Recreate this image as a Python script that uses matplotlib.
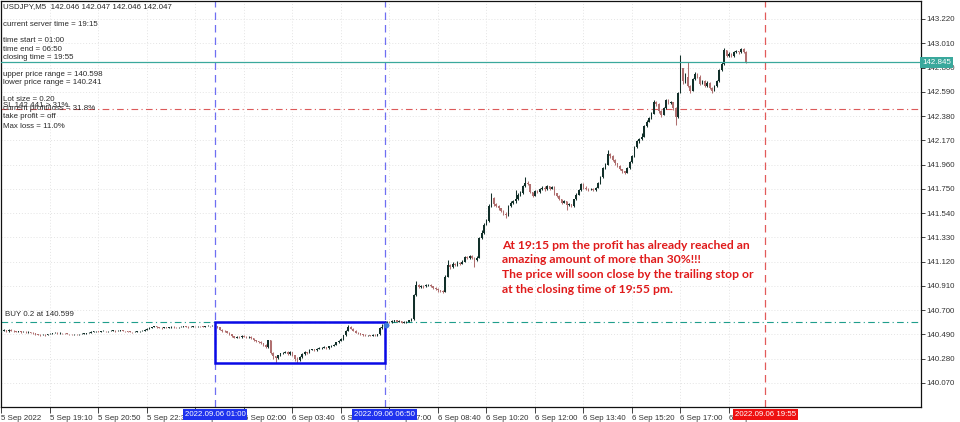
import matplotlib
matplotlib.use("Agg")
import matplotlib.pyplot as plt
import matplotlib.transforms as mtransforms
from matplotlib.patches import Rectangle
import numpy as np

# ---------------- data ----------------
first_open = 140.515

pre_close = [140.520, 140.528, 140.515, 140.530, 140.522, 140.518, 140.512, 140.515, 140.510, 140.512,
             140.508, 140.512, 140.505, 140.500, 140.492, 140.488, 140.482, 140.486, 140.484, 140.490,
             140.495, 140.500, 140.504, 140.498, 140.502, 140.500, 140.498, 140.495, 140.492, 140.490,
             140.493, 140.490, 140.492, 140.494, 140.496, 140.500, 140.505, 140.512, 140.515, 140.518,
             140.514, 140.518, 140.520, 140.516, 140.518, 140.520, 140.522, 140.518, 140.520, 140.523,
             140.520, 140.517, 140.514, 140.512, 140.510, 140.512, 140.515, 140.518, 140.522, 140.528,
             140.540, 140.548, 140.552, 140.558, 140.552, 140.548, 140.545, 140.550, 140.548, 140.552,
             140.555, 140.553, 140.550, 140.552, 140.555, 140.558, 140.556, 140.553, 140.556, 140.560,
             140.558, 140.561, 140.558, 140.556, 140.560, 140.563, 140.561, 140.565]
pre_high = [140.528, 140.535, 140.530, 140.536, 140.532, 140.524, 140.520, 140.520, 140.517, 140.518,
            140.515, 140.516, 140.514, 140.507, 140.502, 140.495, 140.490, 140.491, 140.490, 140.496,
            140.500, 140.505, 140.508, 140.506, 140.506, 140.504, 140.502, 140.500, 140.497, 140.495,
            140.497, 140.495, 140.496, 140.498, 140.500, 140.505, 140.510, 140.516, 140.520, 140.523,
            140.520, 140.522, 140.525, 140.522, 140.522, 140.525, 140.527, 140.524, 140.525, 140.528,
            140.525, 140.522, 140.518, 140.516, 140.514, 140.516, 140.519, 140.523, 140.527, 140.535,
            140.545, 140.553, 140.557, 140.562, 140.560, 140.555, 140.551, 140.555, 140.553, 140.557,
            140.560, 140.558, 140.555, 140.557, 140.560, 140.563, 140.560, 140.558, 140.560, 140.565,
            140.563, 140.566, 140.563, 140.560, 140.565, 140.568, 140.566, 140.570]
pre_low = [140.510, 140.518, 140.510, 140.514, 140.518, 140.512, 140.507, 140.509, 140.505, 140.507,
           140.503, 140.505, 140.500, 140.495, 140.487, 140.482, 140.477, 140.480, 140.479, 140.483,
           140.489, 140.494, 140.498, 140.493, 140.496, 140.495, 140.493, 140.490, 140.487, 140.485,
           140.487, 140.486, 140.488, 140.490, 140.492, 140.494, 140.500, 140.503, 140.510, 140.512,
           140.510, 140.512, 140.515, 140.511, 140.513, 140.515, 140.517, 140.513, 140.515, 140.518,
           140.515, 140.512, 140.509, 140.507, 140.505, 140.507, 140.510, 140.513, 140.516, 140.520,
           140.526, 140.538, 140.545, 140.550, 140.547, 140.543, 140.540, 140.543, 140.543, 140.546,
           140.549, 140.548, 140.545, 140.547, 140.550, 140.553, 140.551, 140.548, 140.551, 140.554,
           140.553, 140.556, 140.553, 140.551, 140.554, 140.558, 140.556, 140.559]

range_close = [140.560, 140.550, 140.530, 140.520, 140.515, 140.505, 140.490, 140.475, 140.460, 140.470,
               140.465, 140.475, 140.470, 140.465, 140.470, 140.460, 140.440, 140.430, 140.425, 140.415,
               140.400, 140.380, 140.440, 140.330, 140.300, 140.285, 140.310, 140.325, 140.330, 140.340,
               140.320, 140.335, 140.310, 140.280, 140.270, 140.290, 140.320, 140.335, 140.330, 140.355,
               140.360, 140.350, 140.365, 140.370, 140.375, 140.380, 140.370, 140.385, 140.390, 140.400,
               140.420, 140.435, 140.450, 140.480, 140.520, 140.555, 140.540, 140.520, 140.505, 140.500,
               140.490, 140.485, 140.480, 140.482, 140.478, 140.485, 140.480, 140.490, 140.545, 140.555]
range_high = [140.598, 140.565, 140.555, 140.535, 140.525, 140.518, 140.508, 140.493, 140.478, 140.476,
              140.474, 140.480, 140.480, 140.474, 140.476, 140.474, 140.462, 140.445, 140.436, 140.430,
              140.418, 140.403, 140.445, 140.445, 140.335, 140.305, 140.315, 140.332, 140.338, 140.348,
              140.345, 140.342, 140.340, 140.315, 140.290, 140.298, 140.326, 140.342, 140.340, 140.360,
              140.366, 140.362, 140.370, 140.376, 140.380, 140.386, 140.382, 140.390, 140.396, 140.406,
              140.426, 140.442, 140.458, 140.487, 140.530, 140.572, 140.560, 140.545, 140.525, 140.510,
              140.505, 140.495, 140.490, 140.488, 140.486, 140.490, 140.490, 140.495, 140.552, 140.575]
range_low = [140.552, 140.545, 140.525, 140.512, 140.508, 140.500, 140.485, 140.470, 140.455, 140.456,
             140.458, 140.460, 140.464, 140.458, 140.462, 140.452, 140.435, 140.425, 140.418, 140.410,
             140.392, 140.372, 140.375, 140.322, 140.280, 140.243, 140.280, 140.305, 140.318, 140.325,
             140.312, 140.315, 140.300, 140.262, 140.245, 140.262, 140.285, 140.314, 140.322, 140.326,
             140.350, 140.342, 140.348, 140.360, 140.365, 140.370, 140.362, 140.365, 140.382, 140.388,
             140.395, 140.415, 140.430, 140.444, 140.475, 140.515, 140.532, 140.515, 140.498, 140.494,
             140.483, 140.478, 140.474, 140.475, 140.472, 140.474, 140.474, 140.476, 140.485, 140.540]

post_close = [140.590, 140.600, 140.595, 140.605, 140.610, 140.600, 140.605, 140.590, 140.595, 140.600,
              140.610, 140.625, 140.830, 140.920, 140.900, 140.910, 140.905, 140.915, 140.920, 140.905,
              140.890, 140.885, 140.870, 140.865, 140.860, 140.990, 141.090, 141.070, 141.100, 141.090,
              141.110, 141.100, 141.120, 141.160, 141.150, 141.170, 141.150, 141.130, 141.155, 141.320,
              141.370, 141.440, 141.470, 141.600, 141.670, 141.620, 141.600, 141.580, 141.560, 141.535,
              141.520, 141.600, 141.630, 141.640, 141.660, 141.700, 141.710, 141.770, 141.800, 141.790,
              141.720, 141.690, 141.730, 141.720, 141.750, 141.760, 141.745, 141.770, 141.750, 141.765,
              141.710, 141.690, 141.660, 141.630, 141.640, 141.610, 141.615, 141.600, 141.660, 141.700,
              141.740, 141.790, 141.760, 141.750, 141.745, 141.750, 141.740, 141.760, 141.800, 141.850,
              141.930, 141.960, 142.050, 142.030, 142.000, 141.970, 141.950, 141.920, 141.900, 141.890,
              141.930, 141.980, 142.030, 142.110, 142.160, 142.180, 142.200, 142.290, 142.330, 142.360,
              142.400, 142.500, 142.480, 142.420, 142.390, 142.450, 142.520, 142.490, 142.500, 142.450,
              142.370, 142.580, 142.800, 142.680, 142.720, 142.640, 142.600, 142.700, 142.740, 142.720,
              142.660, 142.680, 142.640, 142.670, 142.620, 142.600, 142.640, 142.680, 142.780, 142.830,
              142.950, 142.900, 142.920, 142.900, 142.930, 142.940, 142.930, 142.960, 142.935, 142.845]
post_high = [140.602, 140.608, 140.605, 140.612, 140.618, 140.612, 140.612, 140.608, 140.602, 140.606,
             140.616, 140.632, 140.840, 140.950, 140.928, 140.918, 140.915, 140.922, 140.928, 140.922,
             140.908, 140.898, 140.892, 140.878, 140.872, 141.000, 141.130, 141.100, 141.115, 141.110,
             141.125, 141.120, 141.130, 141.170, 141.170, 141.180, 141.175, 141.160, 141.165, 141.330,
             141.390, 141.450, 141.490, 141.620, 141.710, 141.680, 141.630, 141.610, 141.585, 141.570,
             141.545, 141.610, 141.645, 141.655, 141.740, 141.715, 141.730, 141.785, 141.850, 141.815,
             141.795, 141.725, 141.740, 141.740, 141.760, 141.775, 141.770, 141.780, 141.775, 141.775,
             141.770, 141.715, 141.695, 141.665, 141.650, 141.645, 141.625, 141.620, 141.665, 141.710,
             141.750, 141.800, 141.800, 141.770, 141.760, 141.760, 141.755, 141.765, 141.810, 141.860,
             141.940, 141.975, 142.090, 142.060, 142.040, 142.005, 141.975, 141.955, 141.925, 141.905,
             141.940, 141.990, 142.040, 142.120, 142.170, 142.190, 142.230, 142.300, 142.345, 142.375,
             142.415, 142.520, 142.510, 142.490, 142.430, 142.460, 142.530, 142.530, 142.510, 142.505,
             142.455, 142.590, 142.910, 142.800, 142.750, 142.850, 142.650, 142.710, 142.760, 142.750,
             142.735, 142.690, 142.690, 142.680, 142.675, 142.630, 142.650, 142.690, 142.790, 142.845,
             142.970, 142.955, 142.930, 142.925, 142.940, 142.955, 142.945, 142.965, 142.965, 142.940]
post_low = [140.550, 140.585, 140.585, 140.590, 140.598, 140.595, 140.595, 140.585, 140.585, 140.592,
            140.596, 140.605, 140.615, 140.825, 140.890, 140.895, 140.895, 140.900, 140.908, 140.898,
            140.880, 140.875, 140.860, 140.855, 140.850, 140.855, 140.985, 141.055, 141.065, 141.080,
            141.085, 141.090, 141.095, 141.115, 141.140, 141.145, 141.140, 141.070, 141.125, 141.150,
            141.315, 141.360, 141.435, 141.465, 141.595, 141.605, 141.590, 141.570, 141.545, 141.525,
            141.500, 141.515, 141.590, 141.620, 141.630, 141.655, 141.690, 141.705, 141.765, 141.780,
            141.715, 141.680, 141.685, 141.710, 141.715, 141.740, 141.735, 141.740, 141.740, 141.745,
            141.700, 141.680, 141.650, 141.620, 141.625, 141.570, 141.600, 141.590, 141.595, 141.655,
            141.695, 141.735, 141.750, 141.740, 141.735, 141.740, 141.730, 141.735, 141.755, 141.795,
            141.845, 141.920, 141.955, 142.020, 141.990, 141.960, 141.940, 141.910, 141.890, 141.880,
            141.885, 141.925, 141.975, 142.025, 142.100, 142.150, 142.170, 142.195, 142.285, 142.325,
            142.355, 142.395, 142.465, 142.410, 142.375, 142.385, 142.440, 142.480, 142.480, 142.430,
            142.300, 142.365, 142.575, 142.660, 142.670, 142.630, 142.580, 142.595, 142.690, 142.705,
            142.650, 142.655, 142.630, 142.635, 142.610, 142.580, 142.595, 142.635, 142.675, 142.770,
            142.825, 142.890, 142.895, 142.890, 142.895, 142.925, 142.920, 142.925, 142.925, 142.840]

price_ticks = [140.070, 140.280, 140.490, 140.700, 140.910, 141.120, 141.330, 141.540,
               141.750, 141.960, 142.170, 142.380, 142.590, 142.800, 143.010, 143.220]
time_ticks = [0, 20, 40, 60, 80, 100, 120, 140, 160, 180, 200, 220, 240, 260, 280, 300]
time_labels = ["5 Sep 2022", "5 Sep 19:10", "5 Sep 20:50", "5 Sep 22:30", "6 Sep 00:20",
               "6 Sep 02:00", "6 Sep 03:40", "6 Sep 05:20", "6 Sep 07:00", "6 Sep 08:40",
               "6 Sep 10:20", "6 Sep 12:00", "6 Sep 13:40", "6 Sep 15:20", "6 Sep 17:00",
               "6 Sep 18:40"]

start_bar, end_bar, close_bar = 88, 158, 315
start_label, end_label, close_label = "2022.09.06 01:00", "2022.09.06 06:50", "2022.09.06 19:55"
upper_range, lower_range = 140.598, 140.241
buy_price = 140.598
stop_level = 142.441
current_price = 142.845

info_lines = [
    ("USDJPY,M5  142.046 142.047 142.046 142.047", 6.7),
    ("current server time = 19:15", 24),
    ("time start = 01:00", 41),
    ("time end = 06:50", 49.3),
    ("closing time = 19:55", 57.3),
    ("upper price range = 140.598", 75),
    ("lower price range = 140.241", 82.3),
    ("Lot size = 0.20", 99.3),
    ("current profit/loss = 31.8%", 109),
    ("take profit = off", 116.7),
    ("Max loss = 11.0%", 126),
]
note_lines = ["At 19:15 pm the profit has already reached an",
              "amazing amount of more than 30%!!!",
              "The price will soon close by the trailing stop or",
              "at the closing time of 19:55 pm."]

# ---------------- figure ----------------
W, H = 960, 422
SMALL = dict(family=["Liberation Sans", "DejaVu Sans"], size=5.7, color="#2a2a2a")

fig = plt.figure(figsize=(W / 100, H / 100), dpi=100)
ax = fig.add_axes([1 / W, 15 / H, 920 / W, 406 / H])

closes = np.array(pre_close + range_close + post_close)
highs = np.array(pre_high + range_high + post_high)
lows = np.array(pre_low + range_low + post_low)
opens = np.concatenate([[first_open], closes[:-1]])
xs = np.arange(len(closes))

bull_col, bear_col = "#12302a", "#b07070"
cols = [bull_col if c >= o else bear_col for o, c in zip(opens, closes)]
ax.vlines(xs, lows, highs, colors=cols, lw=0.75, zorder=3)
body = np.maximum(np.abs(closes - opens), 0.004)
ax.bar(xs, body, bottom=np.minimum(opens, closes), width=0.66, color=cols, lw=0, zorder=3)

ax.set_xlim(-0.206, 379.18)
ax.set_ylim(139.8607, 143.3758)

# grid / ticks
ax.set_yticks(price_ticks)
ax.set_yticklabels([f"{p:.3f}" for p in price_ticks])
ax.yaxis.tick_right()
ax.set_xticks(time_ticks)
ax.set_xticklabels(time_labels)
ax.tick_params(axis="y", direction="out", length=3, width=0.6, pad=1, colors="#222",
               labelsize=5.7, labelcolor="#333")
ax.tick_params(axis="x", direction="out", length=4, width=0.6, pad=2, colors="#222",
               labelsize=5.7, labelcolor="#333")
for lab in ax.get_xticklabels():
    lab.set_horizontalalignment("left")
    lab.set_family(["Liberation Sans", "DejaVu Sans"])
for lab in ax.get_yticklabels():
    lab.set_family(["Liberation Sans", "DejaVu Sans"])
ax.grid(True, color="#e4e4e4", ls=(0, (1, 2)), lw=0.7)
ax.set_axisbelow(True)
for s in ax.spines.values():
    s.set_color("#111")
    s.set_linewidth(0.9)

# reference lines
ax.axhline(current_price, color="#3aa89c", lw=0.9, zorder=4)
ax.axhline(stop_level, color="#dc5a5a", lw=0.8, ls=(0, (6, 3, 1, 3)), zorder=2)
ax.axhline(buy_price, color="#1f9e8c", lw=0.8, ls=(0, (6, 3, 1, 3)), zorder=2)
for b, c in ((start_bar, "#6f6ff2"), (end_bar, "#6f6ff2"), (close_bar, "#e25a5a")):
    ax.axvline(b, color=c, lw=0.9, ls=(0, (6, 4)), zorder=2)

ax.add_patch(Rectangle((start_bar, lower_range), end_bar - start_bar, upper_range - lower_range,
                       fill=False, edgecolor="#0a0ae6", lw=1.8, zorder=5))
ax.plot([end_bar + 0.4], [buy_price - 0.03], "o", ms=3.2, color="#3a78d8", zorder=6)

# texts on chart
def ptext(x, y, s, **kw):
    fig.text(x / W, 1 - y / H, s, va="center", ha="left", **kw)

for s, y in info_lines:
    ptext(3, y, s, **SMALL)
ptext(3, 105.5, "SL 142.441 > 31%", **SMALL)
ptext(5, 315, "BUY 0.2 at 140.599", **SMALL)

for i, s in enumerate(note_lines):
    ptext(502, 245 + i * 14.7, s, family=["Lato", "DejaVu Sans"], weight="bold",
          size=8.75, color="#e01b1b")

# highlighted vertical line labels on the time axis
trans = mtransforms.blended_transform_factory(ax.transData, ax.transAxes)
for b, s, bg in ((start_bar, start_label, "#1f33ee"), (end_bar, end_label, "#1f33ee"),
                 (close_bar, close_label, "#ee1111")):
    ax.text(b, -0.0185, s, transform=trans, ha="center", va="center", color="white",
            family=["Liberation Sans", "DejaVu Sans"], size=5.7, clip_on=False, zorder=10,
            bbox=dict(boxstyle="square,pad=0.25", fc=bg, ec="none"))

# current price label on the price axis
ax.text(1.001, current_price, f"{current_price:.3f}",
        transform=mtransforms.blended_transform_factory(ax.transAxes, ax.transData),
        ha="left", va="center", color="white", family=["Liberation Sans", "DejaVu Sans"], size=5.7,
        clip_on=False, zorder=10, bbox=dict(boxstyle="square,pad=0.25", fc="#3aa89c", ec="none"))

fig.savefig("out.png", dpi=100)
